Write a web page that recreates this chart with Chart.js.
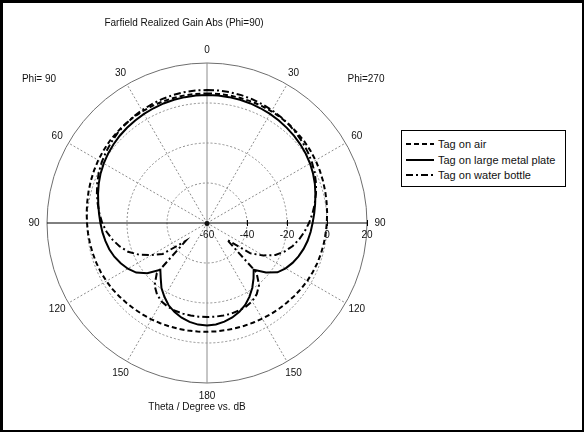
<!DOCTYPE html>
<html>
<head>
<meta charset="utf-8">
<title>Farfield Realized Gain Abs (Phi=90)</title>
<script src="https://cdn.jsdelivr.net/npm/chart.js@4/dist/chart.umd.min.js"></script>
<style>
  html, body { margin: 0; padding: 0; background: #fff; }
  #wrap { position: relative; width: 584px; height: 432px; overflow: hidden; background: #fff; }
  #frame { position: absolute; left: 0; top: 0; width: 584px; height: 432px; box-sizing: border-box;
           border-top: 3px solid #000; border-left: 3px solid #000; border-right: 2px solid #000; border-bottom: 2px solid #000; pointer-events: none; }
  #polar { position: absolute; left: 0; top: 0; }
  .txt { position: absolute; font-family: "Liberation Sans", Arial, sans-serif; font-size: 10px; color: #111;
         white-space: nowrap; transform: translate(-50%, -50%); line-height: 1; }
  #legend { position: absolute; left: 401px; top: 130px; width: 165px; height: 57px; box-sizing: border-box;
            border: 1px solid #000; background: #fff; }
  .item { position: absolute; left: 3px; height: 14px; font-family: "Liberation Sans", Arial, sans-serif; font-size: 11px; color: #111; white-space: nowrap; }
  .item svg { position: absolute; left: 0; top: 0; }
  .item span { position: absolute; left: 33px; top: 0; line-height: 14px; }
</style>
</head>
<body>
<div id="wrap">
  <canvas id="polar" width="584" height="432"></canvas>
  <div class="txt" style="left:184px; top:23px;">Farfield Realized Gain Abs (Phi=90)</div>
  <div class="txt" style="left:39px; top:79px;">Phi= 90</div>
  <div class="txt" style="left:366px; top:79px;">Phi=270</div>
  <div class="txt" style="left:197px; top:407px;">Theta / Degree vs. dB</div>
  <div id="legend"></div>
  <div id="frame"></div>
</div>
<script>
// Theta sampling of the cuts (degrees)
const thetaHalf = [0,5,10,15,20,25,30,35,40,45,50,55,60,65,70,75,80,85,90,
                   95,100,105,110,115,120,125,130,135,140,145,150,155,160,165,170,175,180];

// Angle labels shown around the rim, clockwise from the top
const angleTickLabels = ['0','30','60','90','120','150','180','150','120','90','60','30'];
// Radial (dB) ticks
const radialTicks = [-60, -40, -20, 0, 20];

const seriesNames = ['Tag on air', 'Tag on large metal plate', 'Tag on water bottle'];

// Realized gain (dB) versus theta = 0..180, Phi=270 half (right) and Phi=90 half (left)
const airPhi270   = [4.8,4.8,4.8,4.7,4.7,4.6,4.5,4.3,4.1,3.8,3.5,3.1,2.7,2.2,1.7,1.2,0.7,0.3,-0.1,
                     -0.4,-0.7,-1.0,-1.3,-1.7,-2.1,-2.6,-3.1,-3.6,-4.0,-4.4,-4.8,-5.1,-5.3,-5.5,-5.6,-5.6,-5.6];
const airPhi90    = [4.8,4.8,4.8,4.7,4.7,4.6,4.5,4.4,4.2,3.9,3.6,3.2,2.8,2.3,1.8,1.3,0.8,0.4,0.0,
                     -0.3,-0.6,-0.9,-1.2,-1.5,-1.9,-2.3,-2.8,-3.3,-3.7,-4.1,-4.4,-4.7,-5.0,-5.2,-5.4,-5.5,-5.6];
const metalPhi270 = [4.0,4.0,3.9,3.8,3.6,3.3,3.0,2.6,2.1,1.6,1.0,0.3,-0.5,-1.5,-2.6,-3.9,-5.1,-6.2,-7.2,
                     -8.0,-8.9,-10.0,-11.3,-12.8,-14.6,-17.0,-21.5,-27.0,-23.8,-20.5,-17.5,-14.8,-12.7,-11.1,-9.9,-9.1,-8.7];
const metalPhi90  = [4.0,4.0,3.9,3.8,3.6,3.3,3.0,2.6,2.2,1.7,1.1,0.4,-0.4,-1.3,-2.4,-3.6,-4.8,-5.8,-6.7,
                     -7.5,-8.4,-9.4,-10.7,-12.4,-14.3,-16.8,-21.0,-27.0,-24.0,-20.3,-17.4,-14.6,-12.6,-11.0,-9.8,-9.0,-8.7];
const waterPhi270 = [6.5,6.5,6.4,6.2,5.9,5.5,5.1,4.6,4.0,3.3,2.5,1.6,0.6,-0.6,-2.0,-3.6,-5.3,-7.1,-9.0,
                     -11.0,-13.2,-15.6,-18.6,-22.2,-27.5,-33.5,-47.0,-25.0,-19.5,-16.6,-14.8,-13.9,-13.4,-13.1,-13.0,-13.0,-13.0];
const waterPhi90  = [6.5,6.5,6.4,6.2,5.9,5.5,5.1,4.6,4.0,3.4,2.6,1.7,0.8,-0.3,-1.6,-3.0,-4.5,-6.0,-7.6,
                     -9.6,-12.0,-14.8,-18.0,-22.5,-28.0,-33.0,-46.0,-24.5,-19.2,-16.4,-14.6,-13.8,-13.3,-13.1,-13.0,-13.0,-13.0];

// Full turn, clockwise from the top: Phi=270 from theta 0 to 180, then Phi=90 back from 175 to 5
function fullTurn(right, left) {
  const out = right.slice();
  for (let i = left.length - 2; i >= 1; i--) out.push(left[i]);
  return out;
}
const ringLabels = [];
for (let i = 0; i < thetaHalf.length; i++) ringLabels.push(String(thetaHalf[i]));
for (let i = thetaHalf.length - 2; i >= 1; i--) ringLabels.push(String(thetaHalf[i]));

const styles = [
  { dash: [5, 3] },
  { dash: [] },
  { dash: [7, 3, 2, 3] }
];
const seriesData = [fullTurn(airPhi270, airPhi90), fullTurn(metalPhi270, metalPhi90), fullTurn(waterPhi270, waterPhi90)];

const datasets = seriesData.map((d, k) => ({
  label: seriesNames[k],
  data: d,
  borderColor: '#000',
  borderWidth: 2,
  borderDash: styles[k].dash,
  fill: false,
  pointRadius: 0,
  tension: 0
}));

const FONT = '10px "Liberation Sans", Arial, sans-serif';

// Rim labels, dB labels on the horizontal axis, tick marks and centre dot
const polarDecor = {
  id: 'polarDecor',
  afterDatasetsDraw(chart) {
    const s = chart.scales.r;
    const c = chart.ctx;
    const n = ringLabels.length;
    const per = n / angleTickLabels.length;
    c.save();
    c.font = FONT;
    c.fillStyle = '#111';
    c.textAlign = 'center';
    c.textBaseline = 'middle';
    angleTickLabels.forEach((lab, j) => {
      const p = s.getPointPosition(j * per, s.drawingArea + 13);
      c.fillText(lab, p.x, p.y);
    });
    // dB ticks along the right half of the horizontal axis
    c.strokeStyle = '#000';
    c.lineWidth = 1;
    radialTicks.forEach(v => {
      const x = s.xCenter + s.getDistanceFromCenterForValue(v);
      if (v > radialTicks[0]) {
        c.beginPath();
        c.moveTo(Math.round(x) + 0.5, s.yCenter - 3);
        c.lineTo(Math.round(x) + 0.5, s.yCenter + 3);
        c.stroke();
      }
      c.fillText(String(v), x, s.yCenter + 12);
    });
    c.beginPath();
    c.arc(s.xCenter, s.yCenter + 0.5, 2.5, 0, Math.PI * 2);
    c.fill();
    c.restore();
  }
};

new Chart(document.getElementById('polar').getContext('2d'), {
  type: 'radar',
  data: { labels: ringLabels, datasets },
  options: {
    responsive: false,
    animation: false,
    devicePixelRatio: 1,
    layout: { padding: { left: 47, top: 63, right: 217, bottom: 49 } },
    plugins: { legend: { display: false }, tooltip: { enabled: false }, title: { display: false } },
    scales: {
      r: {
        min: -60,
        max: 20,
        startAngle: 0,
        ticks: { display: false, stepSize: 20 },
        pointLabels: { display: false },
        grid: {
          circular: true,
          lineWidth: 1,
          color: ctx => (ctx.tick && ctx.tick.value === 20) ? '#6e6e6e' : '#8c8c8c'
        },
        border: {
          dash: ctx => (ctx.tick && ctx.tick.value === 20) ? [] : [2, 2]
        },
        angleLines: {
          color: ctx => {
            const a = Math.round(ctx.index * 360 / ringLabels.length);
            if (a % 180 === 90) return '#000';
            if (a % 30 === 0) return '#8c8c8c';
            return 'rgba(0,0,0,0)';
          },
          lineWidth: ctx => {
            const a = Math.round(ctx.index * 360 / ringLabels.length);
            return (a % 30 === 0) ? 1 : 0;
          },
          borderDash: ctx => {
            const a = Math.round(ctx.index * 360 / ringLabels.length);
            return (a % 90 === 0) ? [] : [2, 2];
          }
        }
      }
    }
  },
  plugins: [polarDecor]
});

// Legend box with line samples matching the dataset styles
const legend = document.getElementById('legend');
const rowsY = [6, 22, 37];
datasets.forEach((ds, k) => {
  const row = document.createElement('div');
  row.className = 'item';
  row.style.top = rowsY[k] + 'px';
  const dash = ds.borderDash.length ? ds.borderDash.join(',') : 'none';
  row.innerHTML = '<svg width="30" height="14"><line x1="1" y1="7" x2="29" y2="7" stroke="#000" stroke-width="2" stroke-dasharray="' + dash + '"/></svg><span>' + ds.label + '</span>';
  legend.appendChild(row);
});
</script>
</body>
</html>
